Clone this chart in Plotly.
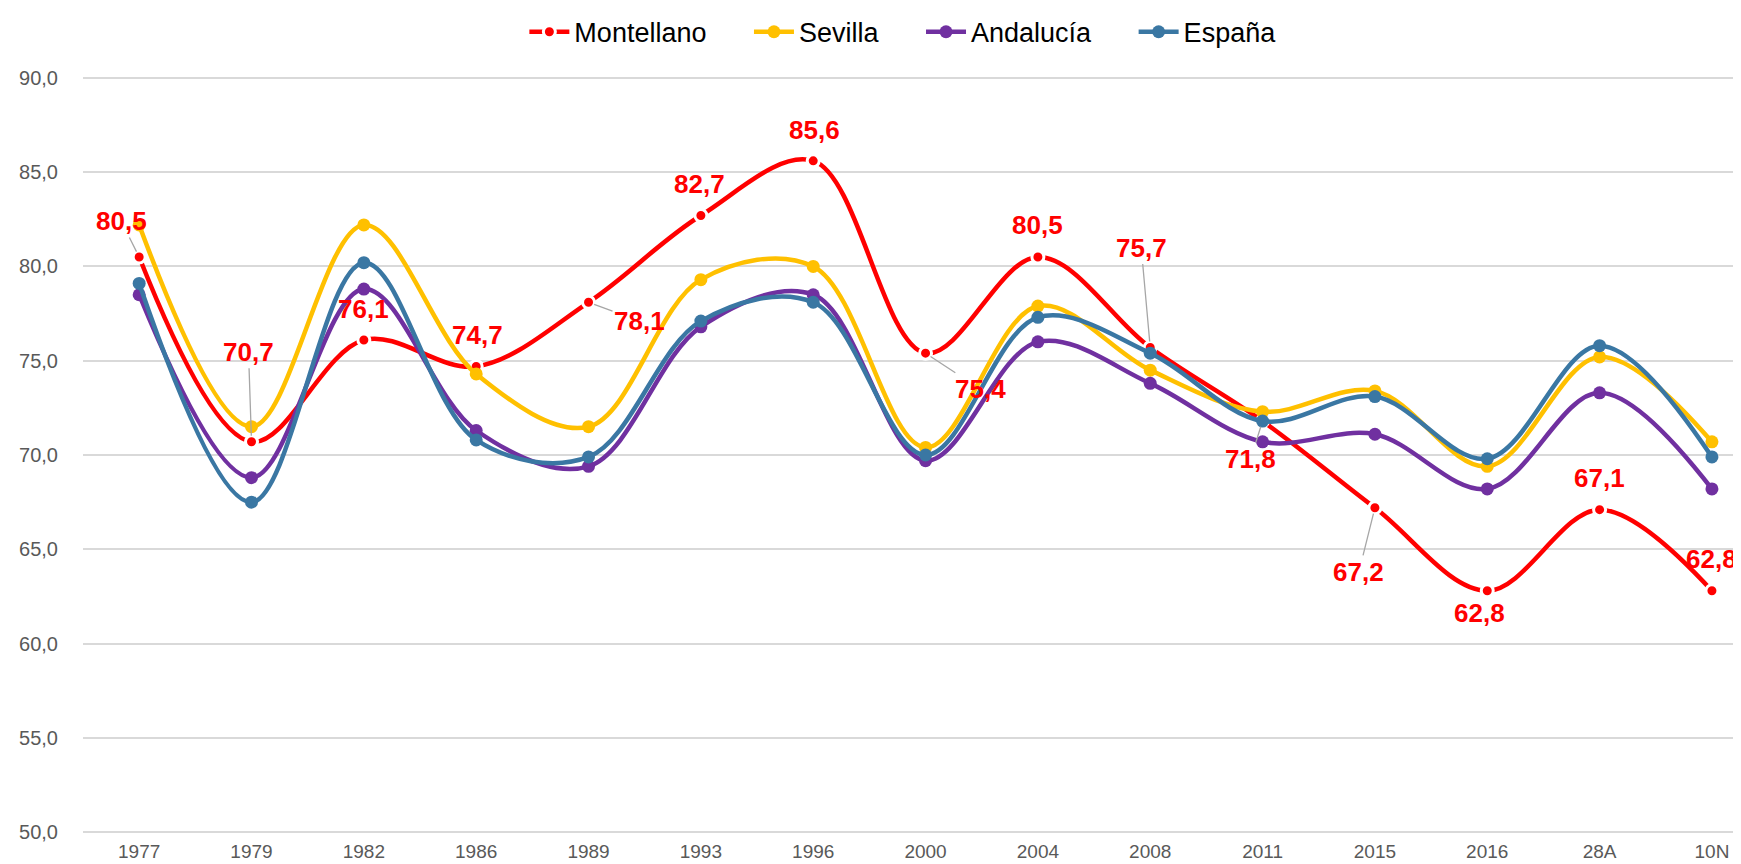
import plotly.graph_objects as go

categories = ["1977", "1979", "1982", "1986", "1989", "1993", "1996", "2000",
              "2004", "2008", "2011", "2015", "2016", "28A", "10N"]
montellano = [80.5, 70.7, 76.1, 74.7, 78.1, 82.7, 85.6, 75.4, 80.5, 75.7, 71.8, 67.2, 62.8, 67.1, 62.8]
sevilla = [82.2, 71.5, 82.2, 74.3, 71.5, 79.3, 80.0, 70.4, 77.9, 74.5, 72.3, 73.4, 69.4, 75.2, 70.7]
andalucia = [78.5, 68.8, 78.8, 71.3, 69.4, 76.8, 78.5, 69.7, 76.0, 73.8, 70.7, 71.1, 68.2, 73.3, 68.2]
espana = [79.1, 67.5, 80.2, 70.8, 69.9, 77.1, 78.1, 70.0, 77.3, 75.4, 71.8, 73.1, 69.8, 75.8, 69.9]

# label placement (pixel offsets from the point; leader line flag) -- styling only
label_dx = [-18, -3, 0, 1, 51, -1, 1, 55, 0, -9, -12, -16, -8, 0, 0]
label_dy = [-36, -90, -31, -31, 19, -32, -31, 36, -32, -100, 38, 64, 22, -32, -32]
label_leader = [True, True, False, False, True, False, False, True, False, True, True, True, False, False, False]

RED = "#FF0000"
YEL = "#FFC000"
PUR = "#7030A0"
BLU = "#3A77A3"
PAD = "\u00a0" * 5

fig = go.Figure()

fig.add_trace(go.Scatter(
    x=categories, y=montellano, name="Montellano" + PAD, mode="lines+markers",
    line=dict(color=RED, width=4.5, shape="spline", smoothing=1.0),
    marker=dict(size=12, color=RED, line=dict(color="white", width=3)),
))
for name, vals, col in [("Sevilla" + PAD, sevilla, YEL), ("Andalucía" + PAD, andalucia, PUR), ("España", espana, BLU)]:
    fig.add_trace(go.Scatter(
        x=categories, y=vals, name=name, mode="lines+markers",
        line=dict(color=col, width=4.5, shape="spline", smoothing=1.0),
        marker=dict(size=13, color=col),
    ))

label_font = dict(family="Liberation Sans, Arial, sans-serif", size=26, color=RED)
for i, v in enumerate(montellano):
    txt = f"{v:.1f}".replace(".", ",")
    if label_leader[i]:
        fig.add_annotation(x=i, y=v, text=f"<b>{txt}</b>", showarrow=True,
                           ax=label_dx[i], ay=label_dy[i], arrowhead=0,
                           arrowcolor="#A6A6A6", arrowwidth=1.3, standoff=6,
                           font=label_font, xanchor="center", yanchor="middle")
    else:
        fig.add_annotation(x=i, y=v, text=f"<b>{txt}</b>", showarrow=False,
                           xshift=label_dx[i], yshift=-label_dy[i],
                           font=label_font, xanchor="center", yanchor="middle")

fig.update_layout(
    width=1741, height=864,
    margin=dict(l=75, r=0, t=68, b=38, autoexpand=False),
    paper_bgcolor="white", plot_bgcolor="white",
    separators=",.",
    showlegend=True,
    legend=dict(orientation="h", xref="container", yref="container",
                x=0.514, xanchor="center", y=0.972, yanchor="middle",
                font=dict(family="Liberation Sans, Arial, sans-serif", size=27, color="black"),
                itemwidth=40, tracegroupgap=0),
    xaxis=dict(type="category", range=[-0.5, 14.33], showgrid=False, showline=False,
               zeroline=False, ticks="", ticklabelstandoff=4,
               tickfont=dict(family="Liberation Sans, Arial, sans-serif", size=19, color="#595959")),
    yaxis=dict(range=[49.9, 90.1], dtick=5, tickformat=".1f", showgrid=True,
               gridcolor="#D9D9D9", gridwidth=1.5, zeroline=False, showline=False,
               ticks="", ticklabelstandoff=24,
               tickfont=dict(family="Liberation Sans, Arial, sans-serif", size=20, color="#595959")),
)

fig.write_html("out.html")
